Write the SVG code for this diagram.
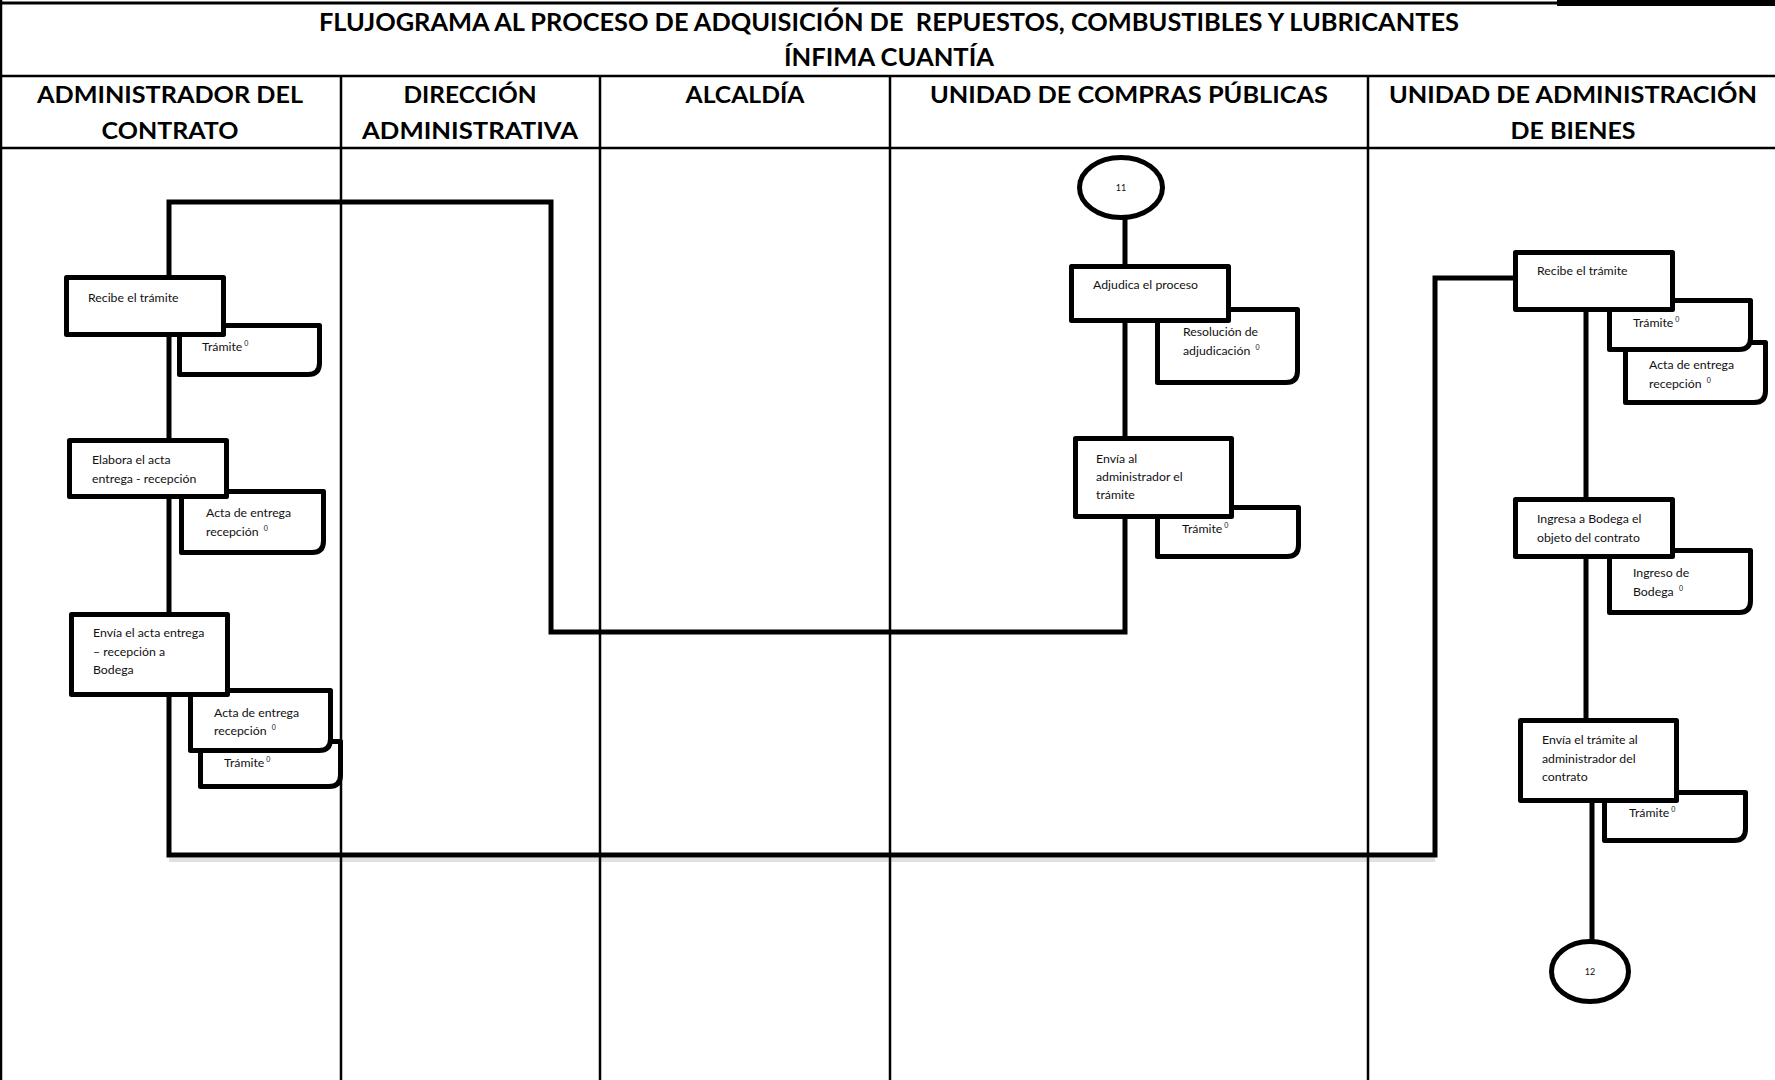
<svg xmlns="http://www.w3.org/2000/svg" width="1775" height="1080" viewBox="0 0 1775 1080">
<style>
.grid{stroke:#000;stroke-width:2.5;fill:none}
.hdr{font-family:Lato,"Open Sans","Liberation Sans",sans-serif;font-weight:bold;font-size:23px;fill:#000;text-anchor:middle}
.ttl{font-family:Lato,"Open Sans","Liberation Sans",sans-serif;font-weight:bold;font-size:24px;fill:#000;text-anchor:middle}
.box{fill:#fff;stroke:#000;stroke-width:5;stroke-linejoin:round}
.doc{fill:#fff;stroke:#000;stroke-width:5;stroke-linejoin:round}
.term{fill:#fff;stroke:#000;stroke-width:5}
.t{font-family:Lato,"Open Sans","Liberation Sans",sans-serif;font-size:12.3px;fill:#111}
.sup{font-size:7px}
.ct{font-family:Lato,"Open Sans","Liberation Sans",sans-serif;font-size:9px;fill:#111;text-anchor:middle}
.conn{fill:none;stroke:#000;stroke-width:5;stroke-linejoin:miter;stroke-linecap:square}
</style>
<rect x="0" y="0" width="1775" height="1080" fill="#fff"/>
<g id="frame">
<line x1="0" y1="3" x2="1775" y2="3" stroke="#000" stroke-width="3"/>
<rect x="1557" y="0" width="218" height="6" fill="#000"/>
<line x1="1" y1="0" x2="1" y2="1080" class="grid" stroke-width="2"/>
<line x1="0" y1="76" x2="1775" y2="76" class="grid" stroke-width="3"/>
<line x1="0" y1="148" x2="1775" y2="148" class="grid" stroke-width="3"/>
<line x1="341" y1="76" x2="341" y2="1080" class="grid"/>
<line x1="600" y1="76" x2="600" y2="1080" class="grid"/>
<line x1="890" y1="76" x2="890" y2="1080" class="grid"/>
<line x1="1368" y1="76" x2="1368" y2="1080" class="grid"/>
</g>
<g id="title">
<text class="ttl" x="889" y="31" textLength="1140" lengthAdjust="spacingAndGlyphs">FLUJOGRAMA AL PROCESO DE ADQUISICIÓN DE&#160; REPUESTOS, COMBUSTIBLES Y LUBRICANTES</text>
<text class="ttl" x="889" y="66" textLength="210" lengthAdjust="spacingAndGlyphs">ÍNFIMA CUANTÍA</text>
</g>
<g id="lanes">
<text class="hdr" x="170" y="103" textLength="266" lengthAdjust="spacingAndGlyphs">ADMINISTRADOR DEL</text>
<text class="hdr" x="170" y="139" textLength="137" lengthAdjust="spacingAndGlyphs">CONTRATO</text>
<text class="hdr" x="470" y="103" textLength="133" lengthAdjust="spacingAndGlyphs">DIRECCIÓN</text>
<text class="hdr" x="470" y="139" textLength="216" lengthAdjust="spacingAndGlyphs">ADMINISTRATIVA</text>
<text class="hdr" x="745" y="103" textLength="119" lengthAdjust="spacingAndGlyphs">ALCALDÍA</text>
<text class="hdr" x="1129" y="103" textLength="398" lengthAdjust="spacingAndGlyphs">UNIDAD DE COMPRAS PÚBLICAS</text>
<text class="hdr" x="1573" y="103" textLength="368" lengthAdjust="spacingAndGlyphs">UNIDAD DE ADMINISTRACIÓN</text>
<text class="hdr" x="1573" y="139" textLength="125" lengthAdjust="spacingAndGlyphs">DE BIENES</text>
</g>
<g id="connectors">
<line x1="169" y1="860" x2="1435" y2="860" stroke="#000" stroke-opacity="0.12" stroke-width="4"/>
<polyline class="conn" points="1125,220 1125,632 551,632 551,202 169,202 169,855 1435,855 1435,278 1513,278"/>
<line class="conn" x1="1586" y1="312" x2="1586" y2="718"/>
<line class="conn" x1="1592" y1="803" x2="1592" y2="939"/>
</g>
<g id="n-adm-recibe">
<path class="doc" d="M179.5,325.5 H319.5 V363 Q319.5,374.5 308,374.5 H179.5 Z"/>
<text class="t" x="202" y="351">Trámite<tspan class="sup" dx="2" dy="-5">0</tspan></text>
<rect class="box" x="66.5" y="277.5" width="157" height="57"/>
<text class="t" x="88" y="302">Recibe el trámite</text>
</g>
<g id="n-adm-elabora">
<path class="doc" d="M181.5,491.5 H323.5 V541 Q323.5,552.5 312,552.5 H181.5 Z"/>
<text class="t" x="206" y="517">Acta de entrega</text>
<text class="t" x="206" y="536">recepción <tspan class="sup" dx="2" dy="-5">0</tspan></text>
<rect class="box" x="69.5" y="440.5" width="157" height="56"/>
<text class="t" x="92" y="464">Elabora el acta</text>
<text class="t" x="92" y="483">entrega - recepción</text>
</g>
<g id="n-adm-envia">
<path class="doc" d="M200.5,741.5 H340.5 V775 Q340.5,786.5 329,786.5 H200.5 Z"/>
<text class="t" x="224" y="767">Trámite<tspan class="sup" dx="2" dy="-5">0</tspan></text>
<path class="doc" d="M190.5,690.5 H330.5 V739 Q330.5,750.5 319,750.5 H190.5 Z"/>
<text class="t" x="214" y="717">Acta de entrega</text>
<text class="t" x="214" y="735">recepción <tspan class="sup" dx="2" dy="-5">0</tspan></text>
<rect class="box" x="71.5" y="614.5" width="156" height="80"/>
<text class="t" x="93" y="637">Envía el acta entrega</text>
<text class="t" x="93" y="656">– recepción a</text>
<text class="t" x="93" y="674">Bodega</text>
</g>
<g id="n-ucp-11">
<ellipse class="term" cx="1121" cy="187.5" rx="41.5" ry="30"/>
<text class="ct" x="1121" y="190.5">11</text>
</g>
<g id="n-ucp-adjudica">
<path class="doc" d="M1157.5,309.5 H1297.5 V371 Q1297.5,382.5 1286,382.5 H1157.5 Z"/>
<text class="t" x="1183" y="336">Resolución de</text>
<text class="t" x="1183" y="355">adjudicación <tspan class="sup" dx="2" dy="-5">0</tspan></text>
<rect class="box" x="1071.5" y="266.5" width="157" height="54"/>
<text class="t" x="1093" y="289">Adjudica el proceso</text>
</g>
<g id="n-ucp-envia">
<path class="doc" d="M1157.5,507.5 H1298.5 V545 Q1298.5,556.5 1287,556.5 H1157.5 Z"/>
<text class="t" x="1182" y="533">Trámite<tspan class="sup" dx="2" dy="-5">0</tspan></text>
<rect class="box" x="1075.5" y="438.5" width="156" height="78"/>
<text class="t" x="1096" y="463">Envía al</text>
<text class="t" x="1096" y="481">administrador el</text>
<text class="t" x="1096" y="499">trámite</text>
</g>
<g id="n-bienes-recibe">
<path class="doc" d="M1625.5,342.5 H1765.5 V391 Q1765.5,402.5 1754,402.5 H1625.5 Z"/>
<text class="t" x="1649" y="369">Acta de entrega</text>
<text class="t" x="1649" y="388">recepción <tspan class="sup" dx="2" dy="-5">0</tspan></text>
<path class="doc" d="M1609.5,300.5 H1750.5 V338 Q1750.5,349.5 1739,349.5 H1609.5 Z"/>
<text class="t" x="1633" y="327">Trámite<tspan class="sup" dx="2" dy="-5">0</tspan></text>
<rect class="box" x="1515.5" y="252.5" width="157" height="57"/>
<text class="t" x="1537" y="275">Recibe el trámite</text>
</g>
<g id="n-bienes-ingresa">
<path class="doc" d="M1609.5,550.5 H1750.5 V601 Q1750.5,612.5 1739,612.5 H1609.5 Z"/>
<text class="t" x="1633" y="577">Ingreso de</text>
<text class="t" x="1633" y="596">Bodega <tspan class="sup" dx="2" dy="-5">0</tspan></text>
<rect class="box" x="1515.5" y="499.5" width="157" height="57"/>
<text class="t" x="1537" y="523">Ingresa a Bodega el</text>
<text class="t" x="1537" y="542">objeto del contrato</text>
</g>
<g id="n-bienes-envia">
<path class="doc" d="M1604.5,792.5 H1745.5 V829 Q1745.5,840.5 1734,840.5 H1604.5 Z"/>
<text class="t" x="1629" y="817">Trámite<tspan class="sup" dx="2" dy="-5">0</tspan></text>
<rect class="box" x="1520.5" y="720.5" width="156" height="80"/>
<text class="t" x="1542" y="744">Envía el trámite al</text>
<text class="t" x="1542" y="763">administrador del</text>
<text class="t" x="1542" y="781">contrato</text>
</g>
<g id="n-bienes-12">
<ellipse class="term" cx="1590" cy="971.5" rx="38.5" ry="30"/>
<text class="ct" x="1590" y="974.5">12</text>
</g>
</svg>
